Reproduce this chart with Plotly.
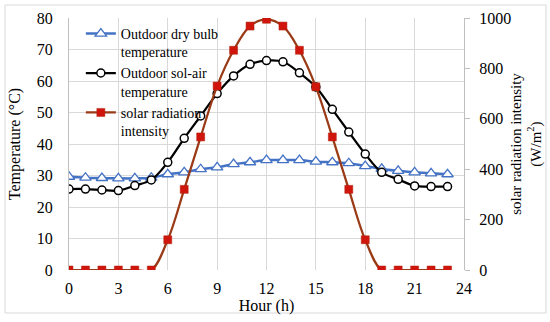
import plotly.graph_objects as go

hours = list(range(24))
dry_bulb = [29.6, 29.3, 29.2, 29.1, 29.1, 29.3, 30.4, 31.0, 32.0, 32.6, 33.6, 34.2,
            34.9, 34.9, 34.9, 34.4, 34.2, 33.9, 33.0, 32.1, 31.5, 31.0, 30.7, 30.4]
sol_air = [25.7, 25.7, 25.4, 25.2, 26.8, 28.6, 34.2, 41.8, 48.9, 56.0, 61.6, 65.3,
           66.5, 66.1, 62.6, 58.1, 51.0, 43.8, 36.8, 31.0, 28.8, 26.7, 26.5, 26.5]
solar = [0, 0, 0, 0, 0, 0, 120, 320, 528, 730, 872, 968,
         995, 968, 872, 727, 528, 320, 120, 0, 0, 0, 0, 0]

x_ticks = [0, 3, 6, 9, 12, 15, 18, 21, 24]

FONT = "Liberation Serif, Times New Roman, serif"
GRID = "#D9D9D9"
AXIS = "#BFBFBF"

fig = go.Figure()
fig.add_trace(go.Scatter(
    x=hours, y=dry_bulb, name="Outdoor dry bulb<br>temperature",
    mode="lines+markers", line=dict(color="#4472C4", width=2.5, shape="spline"),
    marker=dict(symbol="triangle-up", size=10, color="white",
                line=dict(color="#4472C4", width=1.3))))
fig.add_trace(go.Scatter(
    x=hours, y=sol_air, name="Outdoor sol-air<br>temperature",
    mode="lines+markers", line=dict(color="black", width=2.25, shape="spline"),
    marker=dict(symbol="circle", size=8, color="white",
                line=dict(color="black", width=1.5))))
fig.add_trace(go.Scatter(
    x=hours, y=solar, name="solar radiation<br>intensity", yaxis="y2",
    mode="lines+markers", line=dict(color="#9A3A16", width=2.25, shape="spline"),
    marker=dict(symbol="square", size=8, color="#D0160C",
                line=dict(color="#B0200E", width=0.5))))

fig.update_layout(
    width=550, height=322,
    margin=dict(l=69, r=86, t=18, b=52, autoexpand=False),
    paper_bgcolor="white", plot_bgcolor="white",
    font=dict(family=FONT, size=16, color="black"),
    showlegend=True,
    hovermode=False,
    legend=dict(x=0.03, y=1.0, xanchor="left", yanchor="top",
                bgcolor="rgba(0,0,0,0)", valign="top",
                font=dict(family=FONT, size=14), tracegroupgap=0,
                itemwidth=30),
    xaxis=dict(range=[0, 24], tickvals=x_ticks, ticktext=[str(v) for v in x_ticks],
               showgrid=True, gridcolor=GRID, gridwidth=1, zeroline=False,
               showline=False, ticks="", ticklabelstandoff=7, automargin=False,
               tickfont=dict(family=FONT, size=16),
               title=dict(text="Hour (h)", standoff=0,
                          font=dict(family=FONT, size=16))),
    yaxis=dict(range=[0, 80], dtick=10, showgrid=True, gridcolor=GRID,
               zeroline=False, showline=True, linecolor=AXIS, ticks="",
               ticklabelstandoff=12, automargin=False,
               tickfont=dict(family=FONT, size=16),
               title=dict(text="Temperature (°C)", standoff=12,
                          font=dict(family=FONT, size=16))),
    yaxis2=dict(range=[0, 1000], dtick=200, overlaying="y", side="right",
                showgrid=False, zeroline=False, showline=True, linecolor=AXIS,
                ticks="outside", ticklen=5, tickcolor=AXIS, ticklabelstandoff=6,
                automargin=False, tickfont=dict(family=FONT, size=16),
                title=dict(text="solar radiation intensity<br>(W/m<sup>2</sup>)",
                           standoff=0, font=dict(family=FONT, size=15))),
    shapes=[dict(type="rect", xref="paper", yref="paper",
                 x0=(5 - 69) / 395, x1=(546 - 69) / 395,
                 y0=(270 - 313) / 252, y1=(270 - 5) / 252,
                 line=dict(color=GRID, width=1), fillcolor="rgba(0,0,0,0)",
                 layer="below")],
)

fig.write_html("out.html", config={"displayModeBar": False},
               post_script="document.body.style.margin='0px';document.body.style.padding='0px';")
